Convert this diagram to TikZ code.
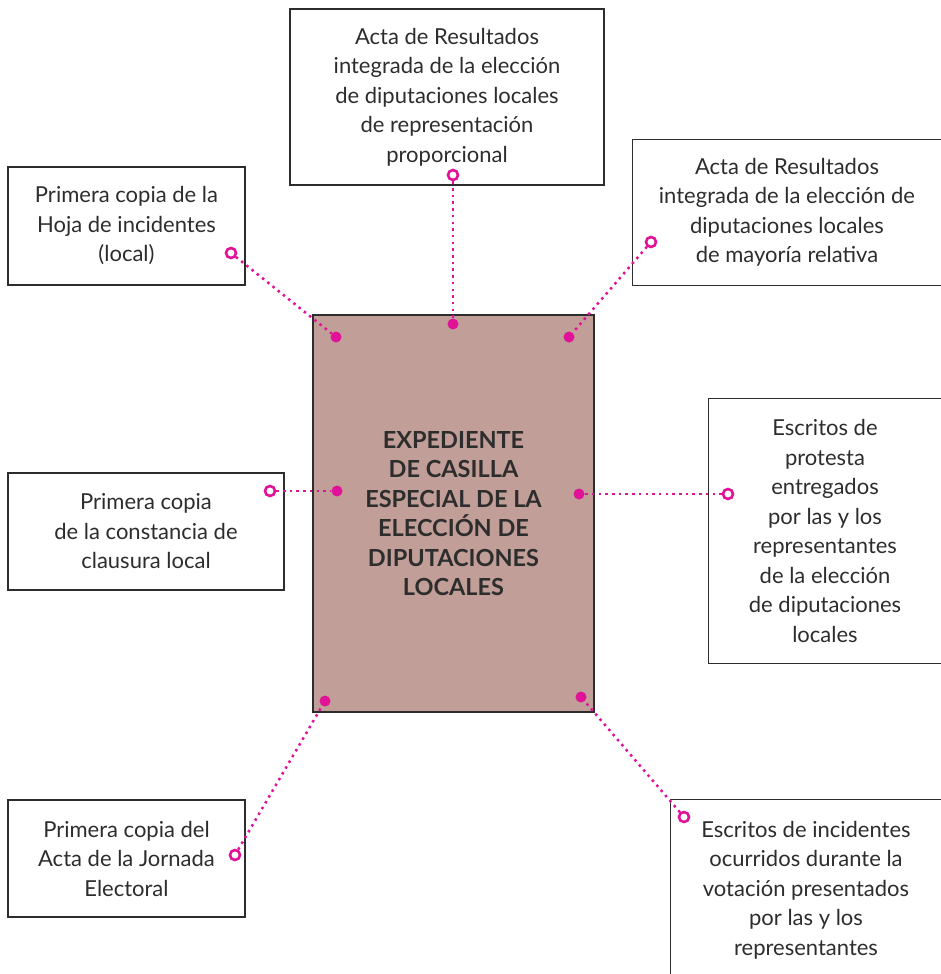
\documentclass[tikz,border=0pt]{standalone}
\usepackage{fontspec}
\setmainfont{Lato}
\definecolor{mag}{RGB}{224,18,152}
\definecolor{expfill}{RGB}{194,158,152}
\definecolor{ink}{RGB}{45,45,45}

% (name, x, y)
\newcommand{\ringpin}[3]{
    \node[ring] (#1) at (#2,#3) {};
}
\newcommand{\dotpin}[3]{
    \node[blob] (#1) at (#2,#3) {};
}
% box cut off by the right page edge
\newcommand{\openbox}[1]{
    \draw[boxline] (#1.north east) -- (#1.north west) -- (#1.south west) -- (#1.south east);
}

\begin{document}
\begin{tikzpicture}[x=1pt, y=-1pt,
    boxline/.style={draw=ink, line width=1.3pt},
    txt/.style={inner sep=0pt, align=center, text=ink, font=\fontsize{22}{29.5}\selectfont},
    docbox/.style={txt, boxline},
    expbox/.style={txt, boxline, fill=expfill, font=\bfseries\fontsize{23.5}{29.5}\selectfont},
    ring/.style={circle, draw=mag, line width=2.6pt, fill=white, minimum size=10pt, inner sep=0pt},
    blob/.style={circle, fill=mag, minimum size=11pt, inner sep=0pt},
    link/.style={draw=mag, line width=2.5pt, dash pattern=on 2.5pt off 4.2pt}]

  \useasboundingbox (0,0) rectangle (941,974);

  \node[expbox, minimum width=281, minimum height=397] (exp) at (453.5,513.5)
    {EXPEDIENTE\\DE CASILLA\\ESPECIAL DE LA\\ELECCIÓN DE\\DIPUTACIONES\\LOCALES};

  \node[docbox, minimum width=314, minimum height=176] (arp) at (447,97)
    {Acta de Resultados\\integrada de la elección\\de diputaciones locales\\de representación\\proporcional};
  \node[docbox, minimum width=237, minimum height=118] (hoja) at (126.5,226)
    {Primera copia de la\\Hoja de incidentes\\(local)};
  \node[txt, minimum width=308, minimum height=145] (amr) at (787,212.5)
    {Acta de Resultados\\integrada de la elección de\\diputaciones locales\\de mayoría relativa};
  \openbox{amr}
  \node[docbox, minimum width=276, minimum height=117] (clau) at (146,531.5)
    {Primera copia\\de la constancia de\\clausura local};
  \node[txt, minimum width=232, minimum height=264] (prot) at (825,531)
    {Escritos de\\protesta\\entregados\\por las y los\\representantes\\de la elección\\de diputaciones\\locales};
  \openbox{prot}
  \node[docbox, minimum width=237, minimum height=117] (jorn) at (126.5,858.5)
    {Primera copia del\\Acta de la Jornada\\Electoral};
  \node[txt, minimum width=270, minimum height=180] (inc) at (806,890)
    {Escritos de incidentes\\ocurridos durante la\\votación presentados\\por las y los\\representantes};
  \draw[boxline] (inc.north east) -- (inc.north west) -- (inc.south west);

  % ring at the document, dot on the expediente
  \ringpin{r1}{231}{253}  \dotpin{d1}{336}{337}
  \ringpin{r2}{453}{175}  \dotpin{d2}{453}{324}
  \ringpin{r3}{651}{242}  \dotpin{d3}{569}{337}
  \ringpin{r4}{270}{491}  \dotpin{d4}{337}{491}
  \ringpin{r5}{728}{494}  \dotpin{d5}{579}{494}
  \ringpin{r6}{235}{855}  \dotpin{d6}{325}{701}
  \ringpin{r7}{684}{817}  \dotpin{d7}{581}{697}

  \foreach \i in {1,...,7}
    \draw[link] (r\i) -- (d\i);

\end{tikzpicture}
\end{document}
